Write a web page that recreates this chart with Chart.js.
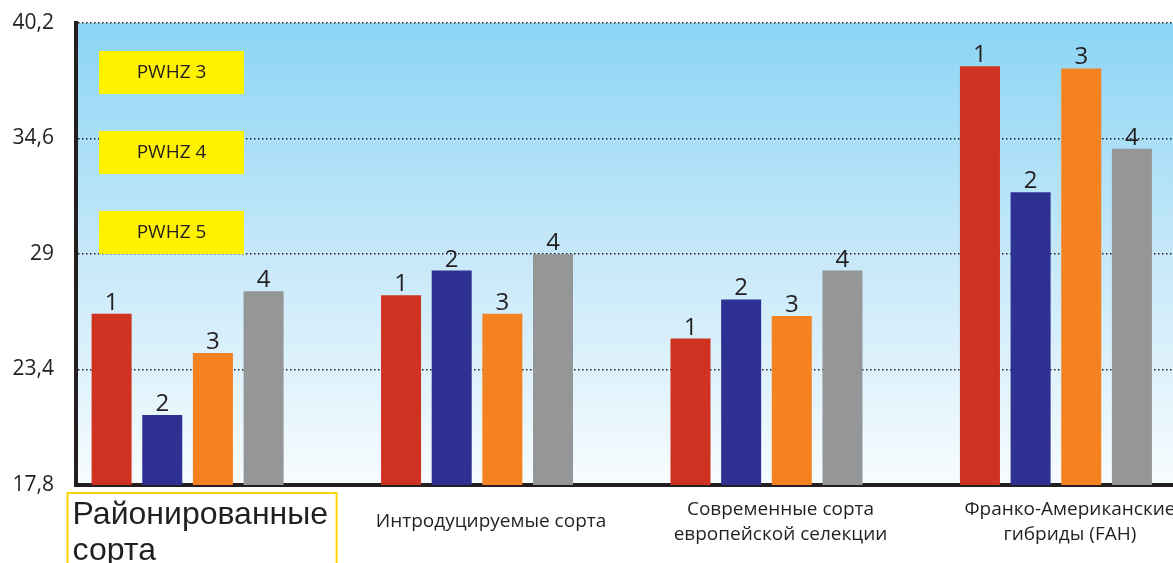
<!DOCTYPE html>
<html lang="ru">
<head>
<meta charset="utf-8">
<title>PWHZ</title>
<script src="https://cdn.jsdelivr.net/npm/chart.js@4.4.1/dist/chart.umd.min.js"></script>
<style>
  html, body { margin: 0; padding: 0; background: #fff; }
  #wrap { width: 1173px; height: 563px; position: relative; }
</style>
</head>
<body>
<div id="wrap"><canvas id="chart"></canvas></div>
<script>
// group labels (first one is the highlighted one)
const groups = [
  ["Районированные", "сорта"],
  ["Интродуцируемые сорта"],
  ["Современные сорта", "европейской селекции"],
  ["Франко-Американские", "гибриды (FAH)"]
];
const seriesNames = ["1", "2", "3", "4"];
const series1 = [26.1, 27.0, 24.9, 38.1];
const series2 = [21.2, 28.2, 26.8, 32.0];
const series3 = [24.2, 26.1, 26.0, 38.0];
const series4 = [27.2, 29.0, 28.2, 34.1];
const yTicks = [17.8, 23.4, 29, 34.6, 40.2];
const zones = ["PWHZ 3", "PWHZ 4", "PWHZ 5"];

const colors = ["#cf3220", "#2e3192", "#f58220", "#959698"];
const ink = "#231f20";

const toPoints = arr => arr.map((v, i) => ({ x: i, y: v }));

// sky gradient behind the plot
const skyPlugin = {
  id: "sky",
  beforeDraw(chart) {
    const { ctx, chartArea: a } = chart;
    const g = ctx.createLinearGradient(0, a.top, 0, a.bottom);
    g.addColorStop(0, "#8bd5f5");
    g.addColorStop(0.5, "#c6e8f9");
    g.addColorStop(1, "#f7fcfe");
    ctx.save();
    ctx.fillStyle = g;
    ctx.fillRect(a.left, a.top, chart.width - a.left, a.bottom - a.top);
    ctx.restore();
  }
};

// yellow PWHZ boxes
const zonePlugin = {
  id: "zones",
  beforeDatasetsDraw(chart) {
    const { ctx, chartArea: a } = chart;
    ctx.save();
    ctx.font = "19px 'Open Sans'";
    ctx.textAlign = "center";
    ctx.textBaseline = "middle";
    zones.forEach((z, i) => {
      const x = a.left + 23, y = a.top + 28 + i * 80;
      ctx.fillStyle = "#fff200";
      ctx.fillRect(x, y, 145, 43);
      ctx.fillStyle = ink;
      ctx.fillText(z, x + 72.5, y + 22);
    });
    ctx.restore();
  }
};

// series number above each bar
const barLabelPlugin = {
  id: "barLabels",
  afterDatasetsDraw(chart) {
    const ctx = chart.ctx;
    ctx.save();
    ctx.font = "24px 'Open Sans'";
    ctx.fillStyle = ink;
    ctx.textAlign = "center";
    ctx.textBaseline = "alphabetic";
    chart.data.datasets.forEach((ds, di) => {
      chart.getDatasetMeta(di).data.forEach(bar => {
        ctx.fillText(ds.label, bar.x, bar.y - 4);
      });
    });
    ctx.restore();
  }
};

// category labels under the axis
const groupLabelPlugin = {
  id: "groupLabels",
  afterDraw(chart) {
    const { ctx, chartArea: a, scales: { x } } = chart;
    ctx.save();
    ctx.fillStyle = ink;
    groups.forEach((lines, i) => {
      const cx = x.getPixelForValue(i);
      if (i === 0) {
        const left = cx - 120;
        ctx.strokeStyle = "#ffd400";
        ctx.lineWidth = 2;
        ctx.strokeRect(left, a.bottom + 8, 269, 120);
        ctx.font = "32px 'Liberation Sans'";
        ctx.textAlign = "left";
        lines.forEach((t, k) => ctx.fillText(t, left + 5, a.bottom + 39 + k * 36));
      } else {
        ctx.font = "19px 'Open Sans'";
        ctx.textAlign = "center";
        const n = lines.length;
        lines.forEach((t, k) => {
          ctx.fillText(t, cx + 14, a.bottom + 42 + (k - (n - 1) / 2) * 25);
        });
      }
    });
    ctx.restore();
  }
};

new Chart(document.getElementById("chart"), {
  type: "bar",
  data: {
    datasets: [series1, series2, series3, series4].map((s, i) => ({
      label: seriesNames[i],
      data: toPoints(s),
      backgroundColor: colors[i],
      borderWidth: 0
    }))
  },
  options: {
    responsive: true,
    maintainAspectRatio: false,
    animation: false,
    layout: { padding: { top: 23, right: 1, bottom: 78, left: 0 } },
    datasets: { bar: { categoryPercentage: 0.70, barPercentage: 0.79 } },
    plugins: { legend: { display: false }, tooltip: { enabled: false } },
    scales: {
      x: {
        type: "linear",
        min: -0.3855,
        max: 3.401,
        offset: false,
        afterBuildTicks: s => { s.ticks = groups.map((g, i) => ({ value: i })); },
        afterFit: s => { s.height = 0; },
        ticks: { display: false },
        grid: { display: false },
        border: { color: ink, width: 4 }
      },
      y: {
        min: 17.8,
        max: 40.2,
        afterBuildTicks: s => { s.ticks = yTicks.map(v => ({ value: v })); },
        afterFit: s => {
          s.width = 76;
          s.paddingTop = 12;
          s.paddingBottom = 12;
        },
        ticks: {
          callback: v => String(v).replace(".", ","),
          font: { family: "'Open Sans'", size: 21 },
          color: ink,
          padding: 22
        },
        grid: { color: ink, lineWidth: 1.5, drawTicks: false },
        border: { color: ink, width: 4, dash: [1.5, 2.5] }
      }
    }
  },
  plugins: [skyPlugin, zonePlugin, barLabelPlugin, groupLabelPlugin]
});
</script>
</body>
</html>
